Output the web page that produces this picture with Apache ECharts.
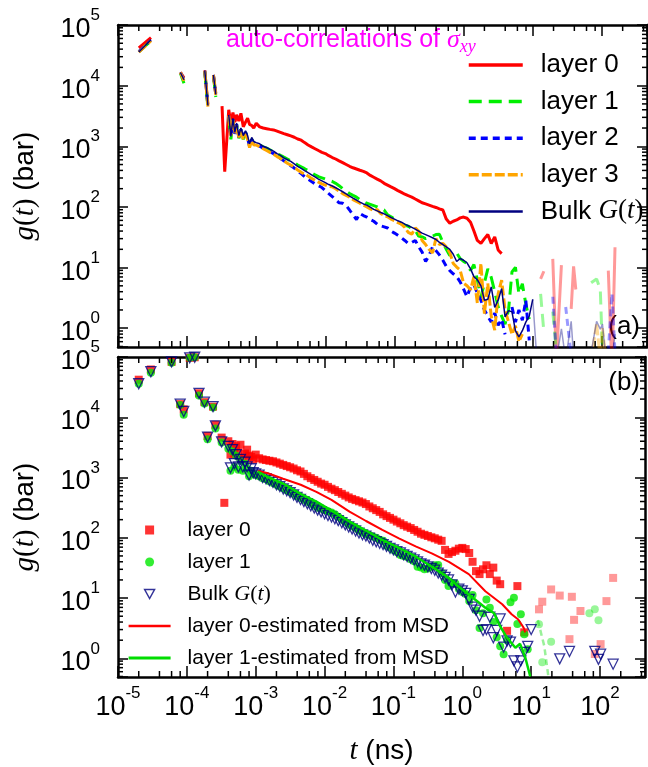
<!DOCTYPE html>
<html><head><meta charset="utf-8">
<script src="https://cdn.jsdelivr.net/npm/echarts@6/dist/echarts.min.js"></script>
<style>html,body{margin:0;padding:0;background:#fff}#c{width:648px;height:767px}</style>
</head><body><div id="c"></div>
<script>
// ---------------- data ----------------
// time grid (ns)
const T = [
 2e-5,3e-5,4.5e-5,6e-5,7e-5,8e-5,9e-5,1.0e-4,1.1e-4,1.2e-4,1.3e-4,1.4e-4,1.5e-4,1.65e-4,1.8e-4,2.0e-4,2.2e-4,2.4e-4,2.6e-4,2.9e-4,3.2e-4,3.5e-4,
 4.0e-4,4.3e-4,4.6e-4,4.9e-4,5.2e-4,5.6e-4,6.0e-4,6.5e-4,7.0e-4,7.5e-4,8.0e-4,8.6e-4,9.2e-4,
 1.00e-3,1.12e-3,1.26e-3,1.41e-3,1.58e-3,1.78e-3,2.00e-3,2.24e-3,2.51e-3,2.82e-3,
 3.16e-3,3.55e-3,3.98e-3,4.47e-3,5.01e-3,5.62e-3,6.31e-3,7.08e-3,7.94e-3,8.91e-3,
 0.0100,0.0112,0.0126,0.0141,0.0158,0.0178,0.0200,0.0224,0.0251,0.0282,
 0.0316,0.0355,0.0398,0.0447,0.0501,0.0562,0.0631,0.0708,0.0794,0.0891,
 0.100,0.112,0.126,0.141,0.158,0.178,0.200,0.224,0.251,0.282,
 0.316,0.355,0.398,0.447,0.501,0.562,0.631,0.708,0.794,0.891,
 1.00,1.12,1.26,1.41,1.58,1.78,2.00,2.24,2.51,2.82,3.16,3.55,3.98,4.47,5.01,5.62,6.31,7.08,7.94,8.91,10.0,
 11.5,13,14.5,16.5,19.5,22,26,30,36,39,42,47,52,60,70,84,95,102,115,124,140,155,170
];
// layer 0 g(t) (bar)
const L0 = [
 42000,62000,null,83000,null,16500,13500,null,97000,null,99000,null,25000,null,17800,4900,null,15000,7500,null,4600,380,
 4000,2400,3600,2500,3300,2600,3500,2100,2500,2900,2300,2200,2000,
 2400,2090,2000,1950,1900,1860,1780,1700,1620,1550,
 1480,1410,1320,1260,1150,1050,977,912,851,794,
 759,700,653,617,575,537,501,468,442,422,
 403,385,363,331,309,288,269,245,229,214,
 200,186,174,162,153,145,135,126,117,112,
 107,102,98,93,89,63,54,58,61,66,
 68,65,56,40,28,25,30,35,25,32,19.5,17,null,2.86,null,null,15.8,null,2.7,null,null,
 null,6.5,8.7,null,13.9,0.3,11,null,2.08,10.5,4.35,null,6.1,null,null,1.18,null,1.72,null,8.9,0.2,21.6,null
];
// layer 1
const L1 = [
 36000,55000,null,80000,null,16000,11000,null,97000,null,99000,null,23000,null,17000,4300,null,14500,6500,null,3800,null,
 3000,1300,2700,1500,2300,1350,1900,1300,1700,1400,1050,1300,1150,
 1100,1050,977,933,871,813,759,708,661,617,
 575,537,490,457,427,398,367,339,316,302,
 288,275,263,245,224,200,182,166,155,145,
 132,123,115,110,105,100,93,89,74,69,
 63,58,52,50,48,44,41,33,32,30,
 31,33,35,35.5,26,20,15.8,17.8,17.4,14.1,
 12.6,11.7,8.9,11.2,6.3,3.2,5.6,9.5,6.9,4.0,2.24,1.58,1.17,2.0,8.5,10.1,3.7,5.4,2.5,1.41,null,
 null,3.67,0.86,null,1.88,0.4,null,null,null,null,null,null,null,null,5.6,6.5,4.3,0.4,null,null,null,null,null
];
// layer 2
const L2 = [
 36500,56000,null,83000,null,16500,12500,null,97000,null,99000,null,24500,null,17500,4600,null,15000,7000,null,3900,null,
 3100,1400,2800,1600,2300,1400,1900,1400,1700,1350,1000,1300,1100,
 1050,1000,933,871,813,759,692,631,575,525,
 479,437,389,355,316,288,263,240,224,209,
 186,166,148,132,117,115,105,89,74,62,
 78,72,68,62,58,52,49,47,45,40,
 37,34,31,28,25,26,28,22,18,12.6,
 15.8,22,19,16.2,13.2,10.5,8.9,7.9,7.1,5.8,
 4.4,3.3,4.8,5.2,3.8,2.9,2.0,1.58,1.26,1.78,1.12,1.41,0.79,null,2.24,1.26,2.0,1.35,2.9,0.63,null,
 null,null,0.4,null,3.3,0.35,null,2.24,0.35,null,null,null,null,null,null,null,null,null,null,0.4,3.74,0.4,null
];
// layer 3
const L3 = [
 35500,55000,null,83000,null,16500,12000,null,97000,null,99000,null,24500,null,17500,4500,null,15000,7000,null,3900,null,
 3200,1500,2800,1600,2200,1400,1800,1300,1600,1300,950,1250,1050,
 1050,977,912,851,794,741,676,631,575,525,
 490,447,407,372,347,324,295,275,257,240,
 229,219,214,200,182,166,155,145,132,123,
 115,107,100,93,87,91,78,72,69,63,
 59,55,52,46,38,35.5,45,40,28,24,
 20,17.4,30,24,25,22,17.8,11.7,10.2,9.1,
 5.5,5.0,4.3,7.1,2.6,11.7,1.74,5.5,1.58,0.93,3.7,6.2,2.0,1.26,0.79,1.1,0.6,0.8,null,null,null,
 null,null,null,null,null,null,null,null,null,null,null,null,null,null,0.3,1.2,0.3,1.0,0.3,null,null,null,null
];
// bulk G(t)
const BULK = [
 36000,57000,null,83000,null,16500,12500,null,97000,null,99000,null,25000,null,17800,4700,null,15000,7200,null,3900,null,
 3300,1450,2900,1700,2400,1500,2000,1500,1800,1500,1100,1400,1200,
 1150,1100,1000,955,891,832,759,708,646,603,
 562,513,468,432,398,367,339,313,288,269,
 251,234,221,207,193,178,164,151,140,130,
 120,112,107,99,91,86,81,77,72,67,
 63,59,56,52,49,46,43,40,37,35,
 33,31,29,26,24,22,20,16.6,12.6,14.1,
 13.2,12,9.5,7.1,6.3,5.0,2.9,3.0,4.8,2.2,2.9,4.5,1.54,1.95,1.86,0.91,0.72,0.91,1.26,1.58,3.0,
 0.3,0.4,0.35,0.3,0.45,0.3,0.98,0.3,1.3,0.35,0.4,0.3,0.45,0.3,0.4,1.3,0.96,1.17,0.3,0.4,0.3,0.8,null
];
// estimates from MSD
const MSD0_T = [1.07e-3,1.5e-3,2.5e-3,4.5e-3,7.6e-3,0.0126,0.023,0.04,0.069,0.12,0.21,0.36,0.64,1.24,2.16,3.8,5.2,6.5,7.8,8.2];
const MSD0_G = [1300,1175,955,760,580,427,271,190,135,98,72,55,40,25,13,7.9,5.4,4.4,3.2,2.7];
const MSD1_T = [1.07e-3,1.5e-3,2.5e-3,4.5e-3,7.6e-3,0.0126,0.023,0.04,0.069,0.12,0.21,0.36,0.64,0.86,1.24,2.16,2.9,3.4,4.4,5.9,6.9,8.2,9.7];
const MSD1_G = [1250,1020,795,537,398,282,186,132,92,68,49,33,21.6,15.8,11.5,6.9,5.6,3.7,2.24,1.5,1.74,1.04,0.5];
const MSD1F_T = [12.5,15.5,18];
const MSD1F_G = [4.3,1.6,0.45];
// axis ranges
const X_RANGE = [1e-5, 450];
const Y_RANGE = [0.49, 1e5];

// ---------------- chart ----------------
const SANS = '"Liberation Sans", Arial, sans-serif';
const SERIF = '"Liberation Serif", "Times New Roman", serif';
const CUT = 10;
const FADE = 0.4;
const RED = '#ff0000', GREEN = '#00f000', BLUE = '#0000ff', ORANGE = '#ffa500', NAVY = '#000080';

function seg(vals, lo, hi) { return T.map((t, i) => [t, (t >= lo && t <= hi && vals[i] != null) ? vals[i] : null]); }
function pts(vals, lo, hi) { const o = []; T.forEach((t, i) => { if (vals[i] != null && t >= lo && t <= hi) o.push([t, vals[i]]); }); return o; }
function zip(a, b) { return a.map((t, i) => [t, b[i]]); }

function isPow10(v) { const l = Math.log10(v); return Math.abs(l - Math.round(l)) < 1e-6; }
function powLabel(v) { if (!isPow10(v)) return ''; return '{b|10}{s|' + Math.round(Math.log10(v)) + '}'; }
const labelRich = {
  b: { fontFamily: SANS, fontSize: 27, lineHeight: 36, verticalAlign: 'bottom', color: '#000' },
  s: { fontFamily: SANS, fontSize: 17, verticalAlign: 'top', color: '#000' }
};
const AXLINE = { show: true, onZero: false, lineStyle: { color: '#000', width: 2.5 } };

function xAx(grid, pos, labels) {
  const a = {
    gridIndex: grid, type: 'log', logBase: 10, min: X_RANGE[0], max: X_RANGE[1], position: pos,
    axisLine: AXLINE, axisTick: { show: true, inside: true, length: 11, lineStyle: { color: '#000', width: 1.5 } },
    splitLine: { show: false }, minorTick: { show: false },
    axisLabel: { show: labels, margin: 8, formatter: powLabel, rich: labelRich, showMinLabel: true, showMaxLabel: true }
  };
  if (labels) {
    a.name = '{i|t}{n| (ns)}'; a.nameLocation = 'middle'; a.nameGap = 60;
    a.nameTextStyle = { color: '#000', fontSize: 28, rich: {
      i: { fontFamily: SERIF, fontStyle: 'italic', fontSize: 29, color: '#000' },
      n: { fontFamily: SANS, fontSize: 28, color: '#000' } } };
  }
  return a;
}
function yAx(grid, pos, labels) {
  const a = {
    gridIndex: grid, type: 'log', logBase: 10, min: Y_RANGE[0], max: Y_RANGE[1], position: pos,
    axisLine: AXLINE, axisTick: { show: true, inside: true, length: 10, lineStyle: { color: '#000', width: 1.5 } },
    splitLine: { show: false }, minorTick: { show: false },
    axisLabel: { show: labels, margin: 18, formatter: powLabel, rich: labelRich }
  };
  if (labels) {
    a.name = '{i|g}{p|(}{i|t}{p|)}{n| (bar)}'; a.nameLocation = 'middle'; a.nameGap = 78; a.nameRotate = 90;
    a.nameTextStyle = { color: '#000', fontSize: 28, rich: {
      i: { fontFamily: SERIF, fontStyle: 'italic', fontSize: 29, color: '#000' },
      p: { fontFamily: SERIF, fontSize: 29, color: '#000' },
      n: { fontFamily: SANS, fontSize: 28, color: '#000' } } };
  }
  return a;
}

function minorItems() {
  const items = [];
  for (let d = -6; d <= 3; d++) for (const m of [2, 4, 6, 8]) {
    const v = m * Math.pow(10, d); if (v > X_RANGE[0] && v < X_RANGE[1]) items.push([v, 1, 0]);
  }
  for (let d = -1; d <= 5; d++) for (let m = 2; m <= 9; m++) {
    const v = m * Math.pow(10, d); if (v > Y_RANGE[0] && v < Y_RANGE[1]) items.push([1e-3, v, 1]);
  }
  return items;
}
function tickRender(params, api) {
  const cs = params.coordSys;
  const st = { stroke: '#000', lineWidth: 1.5 };
  if (api.value(2) === 0) {
    const px = api.coord([api.value(0), 1])[0], b = cs.y + cs.height;
    return { type: 'group', children: [
      { type: 'line', shape: { x1: px, y1: b, x2: px, y2: b - 6 }, style: st },
      { type: 'line', shape: { x1: px, y1: cs.y, x2: px, y2: cs.y + 6 }, style: st } ] };
  }
  const py = api.coord([1e-3, api.value(1)])[1], r = cs.x + cs.width;
  return { type: 'group', children: [
    { type: 'line', shape: { x1: cs.x, y1: py, x2: cs.x + 5, y2: py }, style: st },
    { type: 'line', shape: { x1: r, y1: py, x2: r - 5, y2: py }, style: st } ] };
}

function line(name, grid, data, color, width, dash, opacity) {
  return { name, type: 'line', xAxisIndex: grid * 2, yAxisIndex: grid * 2, data, symbol: 'none', connectNulls: false,
    lineStyle: { color, width, type: dash || 'solid', opacity: opacity == null ? 1 : opacity },
    itemStyle: { color }, silent: true, animation: false };
}
function scat(name, data, symbol, size, style, extra) {
  return Object.assign({ name, type: 'scatter', xAxisIndex: 2, yAxisIndex: 2, data, symbol, symbolSize: size,
    itemStyle: style, silent: true, animation: false }, extra || {});
}

const series = [
  line('top:layer 0', 0, seg(L0, 0, CUT), RED, 3),
  line('f0', 0, seg(L0, CUT, 1e9), RED, 3, null, FADE),
  line('top:layer 1', 0, seg(L1, 0, CUT), GREEN, 3, [13, 7]),
  line('f1', 0, seg(L1, CUT, 1e9), GREEN, 3, [13, 7], FADE),
  line('top:layer 2', 0, seg(L2, 0, CUT), BLUE, 3, [7, 5]),
  line('f2', 0, seg(L2, CUT, 1e9), BLUE, 3, [7, 5], FADE),
  line('top:layer 3', 0, seg(L3, 0, CUT), ORANGE, 3, [10, 3]),
  line('f3', 0, seg(L3, CUT, 1e9), ORANGE, 3, [10, 3], FADE),
  line('top:Bulk', 0, seg(BULK, 0, CUT), NAVY, 1.5),
  line('fb', 0, seg(BULK, CUT, 1e9), NAVY, 1.5, null, FADE),

  scat('bot:layer 0', pts(L0, 0, CUT), 'rect', 8, { color: RED }),
  scat('fs0', pts(L0, CUT + 1e-9, 1e9), 'rect', 8, { color: RED, opacity: FADE }),
  scat('bot:layer 1', pts(L1, 0, CUT), 'circle', 8, { color: '#00e800' }),
  scat('fs1', pts(L1, CUT + 1e-9, 1e9), 'circle', 8, { color: '#00e800', opacity: FADE }),
  scat('bot:Bulk', pts(BULK, 0, 1e9), 'triangle', 10, { color: 'rgba(0,0,0,0)', borderColor: NAVY, borderWidth: 1.3 }, { symbolRotate: 180 }),
  line('bot:msd0', 1, zip(MSD0_T, MSD0_G), RED, 2),
  line('bot:msd1', 1, zip(MSD1_T, MSD1_G), '#00dd00', 2.5),
  line('fm1', 1, zip(MSD1F_T, MSD1F_G), '#00dd00', 2.5, [6, 4], FADE),

  { type: 'custom', xAxisIndex: 0, yAxisIndex: 0, data: minorItems(), renderItem: tickRender, silent: true, z: 5, animation: false },
  { type: 'custom', xAxisIndex: 2, yAxisIndex: 2, data: minorItems(), renderItem: tickRender, silent: true, z: 5, animation: false }
];

const DISPLAY = {
  'top:layer 0': 'layer 0', 'top:layer 1': 'layer 1', 'top:layer 2': 'layer 2', 'top:layer 3': 'layer 3',
  'top:Bulk': 'Bulk {i|G}{p|(}{i|t}{p|)}',
  'bot:layer 0': 'layer 0', 'bot:layer 1': 'layer 1', 'bot:Bulk': 'Bulk {i|G}{p|(}{i|t}{p|)}',
  'bot:msd0': 'layer 0-estimated from MSD', 'bot:msd1': 'layer 1-estimated from MSD'
};
function legendRich(fs, lh) {
  return { i: { fontFamily: SERIF, fontStyle: 'italic', fontSize: fs + 1, lineHeight: lh, color: '#000' },
           p: { fontFamily: SERIF, fontSize: fs + 1, lineHeight: lh, color: '#000' } };
}
const hideSym = { opacity: 0 };

const option = {
  animation: false,
  backgroundColor: '#fff',
  grid: [
    { left: 118, top: 25, width: 529, height: 322, containLabel: false },
    { left: 118, top: 357, width: 529, height: 322, containLabel: false }
  ],
  xAxis: [xAx(0, 'bottom', false), xAx(0, 'top', false), xAx(1, 'bottom', true), xAx(1, 'top', false)],
  yAxis: [yAx(0, 'left', true), yAx(0, 'right', false), yAx(1, 'left', true), yAx(1, 'right', false)],
  legend: [
    { orient: 'vertical', left: 467, top: 50, padding: 0, itemWidth: 54, itemHeight: 12, itemGap: 6.6,
      selectedMode: false, formatter: n => DISPLAY[n],
      textStyle: { fontFamily: SANS, fontSize: 26, lineHeight: 30, color: '#000', padding: [0, 0, 0, 13], rich: legendRich(26, 30) },
      data: [
        { name: 'top:layer 0', itemStyle: hideSym, lineStyle: { width: 3.5 } },
        { name: 'top:layer 1', itemStyle: hideSym, lineStyle: { width: 3.5 } },
        { name: 'top:layer 2', itemStyle: hideSym, lineStyle: { width: 3.5 } },
        { name: 'top:layer 3', itemStyle: hideSym, lineStyle: { width: 3.5 } },
        { name: 'top:Bulk', itemStyle: hideSym, lineStyle: { width: 2.5 } }
      ] },
    { orient: 'vertical', left: 127, top: 518, padding: 0, itemWidth: 42, itemHeight: 9, itemGap: 8,
      selectedMode: false, formatter: n => DISPLAY[n], symbolKeepAspect: true,
      textStyle: { fontFamily: SANS, fontSize: 21, lineHeight: 24, color: '#000', padding: [0, 0, 0, 12], rich: legendRich(21, 24) },
      data: [
        { name: 'bot:layer 0', icon: 'path://M0,0h10v10h-10z' },
        { name: 'bot:layer 1', icon: 'path://M0,5a5,5 0 1,0 10,0a5,5 0 1,0 -10,0z' },
        { name: 'bot:Bulk', icon: 'path://M0,0h11l-5.5,10z', itemStyle: { color: 'rgba(0,0,0,0)', borderColor: NAVY, borderWidth: 1.5 } },
        { name: 'bot:msd0', itemStyle: hideSym, lineStyle: { width: 2.7 } },
        { name: 'bot:msd1', itemStyle: hideSym, lineStyle: { width: 3.2 } }
      ] }
  ],
  graphic: [
    { type: 'text', x: 226, y: 40, silent: true, style: {
        text: '{n|auto-correlations of }{m|σ}{sub|xy}', align: 'left', verticalAlign: 'middle', fill: '#ff00ff',
        rich: {
          n: { fontFamily: SANS, fontSize: 25, lineHeight: 32, verticalAlign: 'middle', fill: '#ff00ff' },
          m: { fontFamily: SERIF, fontStyle: 'italic', fontSize: 26, lineHeight: 32, verticalAlign: 'middle', fill: '#ff00ff' },
          sub: { fontFamily: SERIF, fontStyle: 'italic', fontSize: 18, verticalAlign: 'bottom', fill: '#ff00ff' }
        } } },
    { type: 'text', x: 640, y: 327, silent: true, style: { text: '(a)', fontFamily: SANS, fontSize: 26, fill: '#000', align: 'right', verticalAlign: 'middle' } },
    { type: 'text', x: 640, y: 383, silent: true, style: { text: '(b)', fontFamily: SANS, fontSize: 26, fill: '#000', align: 'right', verticalAlign: 'middle' } }
  ],
  series
};

const chart = echarts.init(document.getElementById('c'), null, { renderer: 'canvas' });
chart.setOption(option);
</script>
</body></html>
